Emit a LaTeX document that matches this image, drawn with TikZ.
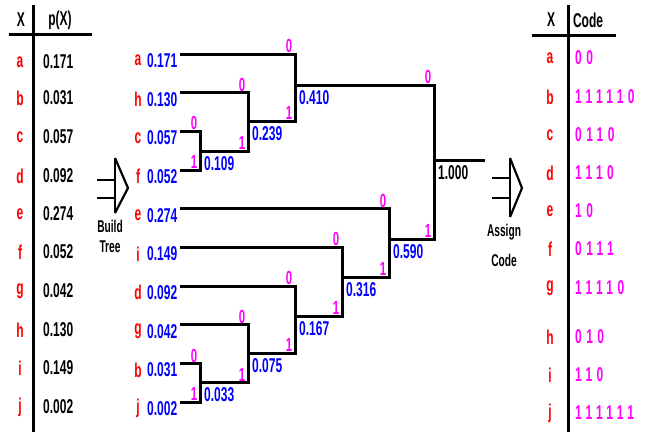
\documentclass[tikz,border=0pt]{standalone}
\usepackage{fontspec}
\newfontfamily\df{Liberation Sans}[FakeStretch=0.6]
\newfontfamily\cf{Liberation Sans}[FakeStretch=0.6, LetterSpace=22]
\definecolor{myred}{RGB}{255,0,0}
\definecolor{myblue}{RGB}{0,0,255}
\definecolor{mymag}{RGB}{255,0,255}
\begin{document}
\begin{tikzpicture}[x=1pt,y=-1pt,
  every node/.style={inner sep=0pt, font=\df\bfseries\fontsize{20}{20}\selectfont},
  edge/.style={line width=3pt, line cap=rect},
  rule/.style={line width=3pt},
  arr/.style={line width=2.2pt},
  lett/.style={text=myred},
  val/.style={text=myblue, anchor=west},
  pval/.style={text=black, anchor=west},
  sum/.style={text=myblue, anchor=north west, xshift=4pt, yshift=-5pt},
  bit/.style={text=mymag, anchor=south, xshift=-6pt, yshift=1.2pt, font=\df\bfseries\fontsize{19}{19}\selectfont},
  code/.style={text=mymag, anchor=west, font=\cf\bfseries\fontsize{20}{20}\selectfont},
  hdr/.style={text=black},
  small/.style={text=black, font=\df\bfseries\fontsize{17}{17}\selectfont}]
\useasboundingbox[fill=white] (0,0) rectangle (652,432);

% ---------- left table ----------
\draw[rule] (33,5) coordinate (lt) -- (33,432) coordinate (lb);
\draw[rule] (9,34) coordinate (hl) -- (92,34) coordinate (hr);
\node[hdr] (hx) at (21,20) {X};
\node[hdr] (hp) at (60,20) {p(X)};
\foreach \l/\v/\y in {a/0.171/62, b/0.031/98, c/0.057/137, d/0.092/176, e/0.274/214,
  f/0.052/252, g/0.042/291, h/0.130/330, i/0.149/368, j/0.002/407}{
  \node[lett] (tl\l) at (20,\y) {\l};
  \node[pval] (tv\l) at (43,\y) {\v};
}

% ---------- build arrow ----------
\draw[arr] (97,180) coordinate (b1) -- (115,180) coordinate (b2);
\draw[arr] (97,198) coordinate (b3) -- (115,198) coordinate (b4);
\draw[arr] (115,158) coordinate (bt) -- (115,213) coordinate (bb);
\draw[arr] (bt) -- (128,188) coordinate (btip) -- (bb);
\node[small] (build) at (110,226) {Build};
\node[small] (tree) at (110,247) {Tree};

% ---------- leaves ----------
\foreach \l/\v/\y in {a/0.171/54, h/0.130/92.7, c/0.057/131.4, f/0.052/170.1, e/0.274/208.8,
  i/0.149/247.5, d/0.092/286.2, g/0.042/324.9, b/0.031/363.6, j/0.002/402.3}{
  \node[lett] (ll\l) at (138,\y+6.5) {\l};
  \node[val] (lv\l) at (147,\y+6.5) {\v};
  \coordinate (L\l) at (181,\y);
}

% ---------- internal junctions ----------
\coordinate (n109) at (200,151);
\coordinate (n033) at (200,382.5);
\coordinate (n239) at (248,121);
\coordinate (n075) at (248,353);
\coordinate (n410) at (295,85);
\coordinate (n167) at (295,316);
\coordinate (n316) at (342,277);
\coordinate (n590) at (389,239);
\coordinate (root) at (434,160);
\coordinate (rootend) at (483,160);

\foreach \p/\t/\b/\s in {n109/Lc/Lf/0.109, n033/Lb/Lj/0.033, n239/Lh/n109/0.239,
  n075/Lg/n033/0.075, n410/La/n239/0.410, n167/Ld/n075/0.167,
  n316/Li/n167/0.316, n590/Le/n316/0.590}{
  \draw[edge] (\t) -| (\p) |- (\b);
  \path (\p |- \t) node[bit] {0};
  \path (\p |- \b) node[bit] {1};
  \node[sum] (s\p) at (\p) {\s};
}
\draw[edge] (n410) -| (root) |- (n590);
\path (root |- n410) node[bit] {0};
\path (root |- n590) node[bit] {1};
\draw[edge] (root) -- (rootend);
\node[sum, text=black] (sroot) at (root) {1.000};

% ---------- assign arrow ----------
\draw[arr] (492,178) coordinate (a1) -- (510,178) coordinate (a2);
\draw[arr] (492,198) coordinate (a3) -- (510,198) coordinate (a4);
\draw[arr] (510,158) coordinate (at) -- (510,217) coordinate (ab);
\draw[arr] (at) -- (522,188) coordinate (atip) -- (ab);
\node[small] (assign) at (504,232) {Assign};
\node[small] (acode) at (504,260) {Code};

% ---------- right table ----------
\draw[rule] (568,5) coordinate (rt) -- (568,432) coordinate (rb);
\draw[rule] (532,35) coordinate (rhl) -- (616,35) coordinate (rhr);
\node[hdr] (rhx) at (551,20) {X};
\node[hdr] (rhc) at (588,20) {Code};
\foreach \l/\c/\y in {a/00/58, b/111110/97, c/0110/135, d/1110/173, e/10/211,
  f/0111/249, g/11110/288, h/010/337, i/110/375, j/111111/413}{
  \node[lett] (rl\l) at (550,\y) {\l};
  \node[code] (rc\l) at (575,\y) {\c};
}
\end{tikzpicture}
\end{document}
